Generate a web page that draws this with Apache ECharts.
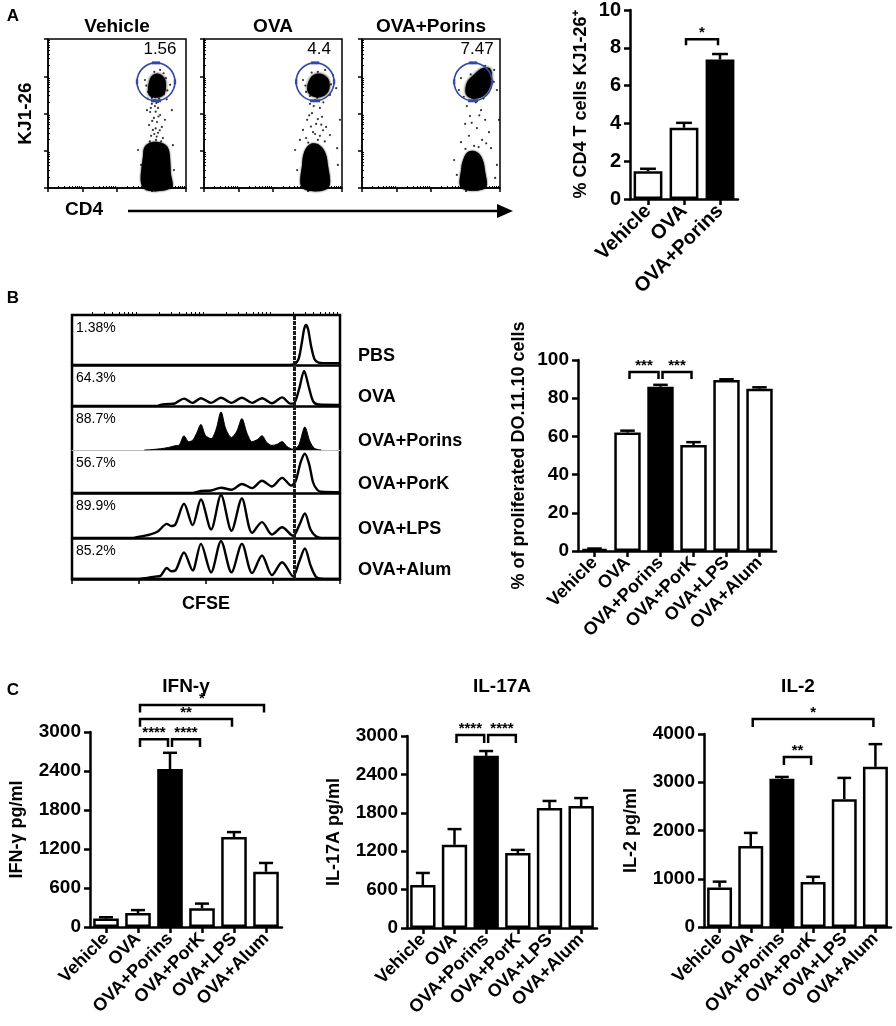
<!DOCTYPE html>
<html>
<head>
<meta charset="utf-8">
<title>Porins - antigen specific T cells</title>
<script src="https://cdn.jsdelivr.net/npm/echarts@6.0.0/dist/echarts.min.js"></script>
<style>
    html, body { margin: 0; padding: 0; background: #fff; }
    #chart { width: 896px; height: 1026px; }
</style>
</head>
<body>
<div id="chart"></div>
<script>
// ---------- data ----------
var groupsA = ['Vehicle', 'OVA', 'OVA+Porins'];
var groups = ['Vehicle', 'OVA', 'OVA+Porins', 'OVA+PorK', 'OVA+LPS', 'OVA+Alum'];

// A: % CD4 T cells KJ1-26+
var kjMean = [1.47, 3.77, 7.38];
var kjSem = [0.13, 0.26, 0.29];
var kjSig = [['OVA', 'OVA+Porins', 8.45, 8.14, '*']];

// B: % proliferated DO.11.10 cells
var prolifMean = [1, 62, 86, 55.5, 89.5, 85];
var prolifSem = [0.3, 1, 1, 1.5, 0.4, 0.7];
var prolifSig = [['OVA', 'OVA+Porins', 93.7, 90, '***'], ['OVA+Porins', 'OVA+PorK', 93.7, 90, '***']];

// C: cytokines pg/ml
var ifnMean = [130, 215, 2430, 290, 1385, 850];
var ifnSem = [20, 45, 250, 70, 75, 135];
var ifnSig = [['OVA', 'OVA+Porins', 2890, 2770, '****'], ['OVA+Porins', 'OVA+PorK', 2890, 2770, '****'],
              ['OVA', 'OVA+LPS', 3200, 3080, '**'], ['OVA', 'OVA+Alum', 3415, 3300, '*']];
var il17Mean = [670, 1300, 2690, 1170, 1875, 1905];
var il17Sem = [190, 245, 75, 50, 110, 125];
var il17Sig = [['OVA', 'OVA+Porins', 3015, 2890, '****'], ['OVA+Porins', 'OVA+PorK', 3015, 2890, '****']];
var il2Mean = [820, 1680, 3070, 935, 2650, 3320];
var il2Sem = [120, 270, 40, 105, 440, 470];
var il2Sig = [['OVA', 'OVA+Alum', 4310, 4145, '*'], ['OVA+Porins', 'OVA+PorK', 3525, 3360, '**']];

// A: dot plots, CD4 (x) vs KJ1-26 (y), in decades
var dotTitles = ['Vehicle', 'OVA', 'OVA+Porins'];
var gatePct = ['1.56', '4.4', '7.47'];
var gates = [[3.13, 2.85, 0.55], [3.22, 2.85, 0.55], [3.22, 2.85, 0.55]];
var vehicleBlob = [[2.76, 0], [2.76, 0.95], [2.8, 1.1], [2.92, 1.2], [3.1, 1.24], [3.3, 1.21], [3.45, 1.12], [3.52, 0.95], [3.56, 0.4], [3.58, 0]];
var vehicleCluster = [[2.90, 2.55], [2.93, 2.85], [3.02, 3.02], [3.2, 3.07], [3.38, 2.95], [3.42, 2.7], [3.35, 2.5], [3.15, 2.42], [2.98, 2.45]];
var vehicleDots = [[3.10, 2.36], [3.01, 2.26], [3.19, 2.15], [2.96, 2.04], [3.25, 1.96], [3.07, 1.88], [3.16, 1.77], [2.93, 1.69],
    [3.30, 1.64], [3.04, 1.56], [3.19, 1.48], [2.99, 1.40], [3.33, 1.34], [3.13, 1.29], [2.87, 2.09], [3.39, 1.83], [2.81, 2.90],
    [3.42, 2.95], [3.25, 3.17], [2.90, 2.58], [3.36, 2.52], [3.54, 2.77], [3.59, 2.09], [2.61, 1.02], [3.62, 1.15], [2.70, 0.62],
    [3.65, 0.48], [3.01, 2.42], [3.19, 2.31], [3.10, 2.20], [3.05, 2.33], [3.14, 2.28], [3.22, 2.40], [2.98, 2.15], [3.12, 2.05],
    [3.20, 1.92], [3.02, 1.80], [3.12, 1.60], [3.08, 1.45], [3.24, 1.55], [3.15, 1.38], [2.95, 1.25], [3.28, 1.25],
    [2.85, 2.75], [3.46, 2.62], [3.08, 3.12], [3.35, 3.08], [2.88, 2.40], [3.44, 2.38]];
var ovaBlob = [[2.85, 0], [2.85, 0.7], [2.9, 0.95], [3.0, 1.12], [3.16, 1.2], [3.35, 1.15], [3.5, 0.98], [3.58, 0.7], [3.6, 0]];
var ovaCluster = [[3.0, 2.6], [3.04, 2.88], [3.2, 3.05], [3.45, 3.05], [3.62, 2.9], [3.62, 2.62], [3.45, 2.46], [3.2, 2.44]];
var ovaDots = [[3.22, 2.36], [3.07, 2.26], [3.36, 2.15], [3.13, 2.01], [3.42, 1.91], [2.99, 1.83], [3.25, 1.72], [3.54, 1.64],
    [2.87, 1.56], [3.16, 1.50], [3.36, 1.40], [2.96, 1.34], [3.65, 1.42], [2.78, 1.29], [3.30, 1.29], [3.07, 2.47], [2.87, 2.90],
    [3.74, 3.03], [3.51, 3.17], [2.96, 2.58], [3.65, 2.50], [3.83, 2.68], [2.64, 1.02], [3.86, 1.07], [2.70, 0.48], [3.88, 0.62],
    [3.94, 1.83], [3.28, 2.42], [3.18, 2.20], [3.46, 2.30], [3.05, 1.95], [3.30, 1.85], [3.10, 1.65], [3.45, 1.55], [3.22, 1.45],
    [3.02, 1.22], [3.50, 1.25], [3.40, 1.70], [2.94, 2.75], [3.68, 2.78], [3.30, 3.12], [3.12, 3.10]];
var porinsBlob = [[2.88, 0], [2.88, 0.55], [2.95, 0.8], [3.05, 0.95], [3.2, 1.0], [3.38, 0.93], [3.5, 0.75], [3.56, 0.5], [3.58, 0]];
var porinsCluster = [[3.0, 2.55], [3.05, 2.85], [3.25, 3.05], [3.5, 3.22], [3.72, 3.2], [3.76, 2.9], [3.62, 2.55], [3.35, 2.4], [3.12, 2.42]];
var porinsDots = [[3.25, 2.36], [3.04, 2.20], [3.45, 2.09], [3.13, 1.93], [3.57, 1.83], [2.99, 1.72], [3.33, 1.61], [3.68, 1.50],
    [3.10, 1.40], [3.48, 1.29], [2.87, 1.23], [3.25, 1.13], [3.74, 1.07], [3.19, 2.42], [3.39, 2.52], [2.87, 2.95], [3.83, 3.17],
    [2.81, 2.63], [3.91, 2.63], [3.57, 3.28], [2.67, 0.75], [3.91, 0.62], [3.86, 0.27], [2.75, 0.35], [3.97, 1.83], [3.30, 2.30],
    [3.52, 2.40], [3.40, 1.95], [3.18, 1.75], [3.60, 1.20], [3.00, 1.05], [3.38, 1.10], [2.95, 2.45], [3.15, 3.05], [3.82, 2.85]];

// B: CFSE histograms, position 0-100 along CFSE axis, height in % of row
var histNames = ['PBS', 'OVA', 'OVA+Porins', 'OVA+PorK', 'OVA+LPS', 'OVA+Alum'];
var histPct = ['1.38%', '64.3%', '88.7%', '56.7%', '89.9%', '85.2%'];
var undividedGate = 82.8;
var histPBS = [[0, 0], [81, 0], [83, 2], [84.5, 12], [85.7, 45], [86.6, 75], [87.3, 84], [88.1, 75], [89.2, 40], [90.5, 12], [92, 5], [94, 4], [100, 4]];
var histOVA = [[0, 0], [32, 0], [33, 3], [36, 5], [38.5, 7], [41.8, 19], [45, 8], [48.1, 20], [51.9, 8], [55.6, 21], [59.5, 8],
    [63.4, 21], [67.2, 8], [70.9, 20], [74.6, 7], [78.4, 22], [81.5, 6], [83, 8], [84.8, 45], [86.6, 90], [88.3, 50], [90, 12], [92, 4], [100, 3]];
var histPorins = [[27, 0], [29, 0.5], [33, 3], [36, 6], [38.4, 10], [40, 12], [41.8, 34], [43.5, 20], [45, 23], [46.5, 40], [48.1, 61],
    [49.8, 35], [51.9, 27], [53.8, 50], [55.6, 91], [57.4, 50], [59.5, 30], [61.5, 45], [63.4, 75], [65.3, 40], [67.2, 20], [69.2, 25],
    [70.9, 34], [72.7, 18], [74.6, 11], [76.6, 14], [78.4, 20], [80.3, 8], [82.5, 2], [84.5, 10], [86.9, 55], [88.8, 20], [90.5, 4], [93, 0]];
var histPorK = [[0, 0], [45, 0], [47, 3], [48.1, 5], [51.9, 6], [55.6, 13], [59.5, 8], [63.4, 22], [67.2, 12], [70.9, 30], [74.6, 16],
    [78.4, 37], [81.8, 18], [83.5, 30], [85.3, 75], [86.9, 96], [88.5, 70], [90, 25], [91.5, 8], [93, 3], [100, 2]];
var histLPS = [[0, 0], [22, 0], [25, 3], [29, 8], [32, 15], [35.4, 33], [37, 28], [38.6, 32], [41.8, 80], [45, 30], [48.1, 90],
    [51.9, 20], [55.6, 100], [59.5, 17], [63.4, 92], [67.2, 12], [70.9, 37], [74.6, 8], [78.4, 25], [82.5, 5], [84.8, 30], [86.9, 57],
    [89, 20], [91, 4], [93, 0], [100, 0]];
var histAlum = [[0, 0], [25, 0], [28, 3], [31, 6], [33, 8], [35.4, 28], [37, 20], [38.6, 22], [41.8, 68], [45, 22], [48.1, 90],
    [51.9, 17], [55.6, 97], [59.5, 17], [63.4, 90], [67.2, 15], [70.9, 60], [74.6, 10], [78.4, 43], [82.5, 7], [84.8, 45], [86.9, 78],
    [89, 35], [91, 6], [93, 1], [100, 0]];

// ---------- layout / helpers ----------
var font = '"Liberation Sans", Arial, Helvetica, sans-serif';
var grids = [], xAxes = [], yAxes = [], series = [], graphics = [];

function addGrid(g) { grids.push(g); return grids.length - 1; }

function txt(x, y, s, size, bold, align, vAlign, rot) {
    graphics.push({
        type: 'text', x: x, y: y, rotation: rot || 0,
        style: {
            text: s, fill: '#000', font: (bold ? 'bold ' : '') + size + 'px ' + font,
            align: align || 'center', verticalAlign: vAlign || 'middle'
        }
    });
}

// minor log ticks within each decade
var logMinor = [];
for (var d = 0; d < 4; d++) {
    for (var m = 2; m <= 9; m++) logMinor.push(d + Math.log10(m));
}

function plainAxis(gi, min, max, extra) {
    var a = {
        gridIndex: gi, type: 'value', min: min, max: max,
        axisLine: { show: false }, axisTick: { show: false }, axisLabel: { show: false }, splitLine: { show: false }
    };
    for (var k in extra) a[k] = extra[k];
    return a;
}

// ---------- A: dot plots ----------
var dotLeft = [48, 204, 362];
var dotBlobs = [vehicleBlob, ovaBlob, porinsBlob];
var dotClusters = [vehicleCluster, ovaCluster, porinsCluster];
var dotPoints = [vehicleDots, ovaDots, porinsDots];

function polySeries(xi, yi, poly, blur) {
    return {
        type: 'custom', xAxisIndex: xi, yAxisIndex: yi, data: poly, silent: true,
        renderItem: function (params, api) {
            if (params.dataIndex !== 0) return null;
            var pts = poly.map(function (p) { return api.coord(p); });
            return {
                type: 'polygon', shape: { points: pts, smooth: 0.35 },
                style: { fill: '#000', shadowBlur: blur, shadowColor: '#000' }
            };
        }
    };
}

dotLeft.forEach(function (left, k) {
    var gi = addGrid({ left: left, top: 39, width: 138, height: 149, show: true, borderColor: '#000', borderWidth: 1.5 });
    var xi = xAxes.length, yi = yAxes.length;
    xAxes.push(plainAxis(gi, 0, 4, {
        interval: 1,
        axisLine: { show: true, lineStyle: { color: '#000', width: 1.5 } },
        axisTick: { show: true, length: 4, lineStyle: { color: '#000', width: 1.5 } }
    }));
    xAxes.push(plainAxis(gi, 0, 4, { axisTick: { show: true, customValues: logMinor, length: 2, lineStyle: { color: '#000', width: 1 } } }));
    yAxes.push(plainAxis(gi, 0, 4, {
        interval: 1,
        name: k === 0 ? 'KJ1-26' : '', nameLocation: 'middle', nameGap: 13,
        nameTextStyle: { fontFamily: font, fontWeight: 'bold', fontSize: 19, color: '#000' },
        axisLine: { show: true, lineStyle: { color: '#000', width: 1.5 } },
        axisTick: { show: true, length: 4, lineStyle: { color: '#000', width: 1.5 } }
    }));
    yAxes.push(plainAxis(gi, 0, 4, { axisTick: { show: true, customValues: logMinor, length: 2, lineStyle: { color: '#000', width: 1 } } }));

    series.push(polySeries(xi, yi, dotBlobs[k], 2));
    series.push(polySeries(xi, yi, dotClusters[k], 3));
    series.push({
        type: 'scatter', xAxisIndex: xi, yAxisIndex: yi, data: dotPoints[k], symbolSize: 2.2,
        itemStyle: { color: '#000' }, silent: true
    });
    series.push({
        type: 'custom', xAxisIndex: xi, yAxisIndex: yi, data: [gates[k]], silent: true, z: 5,
        renderItem: function (params, api) {
            var c = api.coord([api.value(0), api.value(1)]);
            var r = api.size([api.value(2), 0])[0];
            var blue = '#3447a6';
            return {
                type: 'group', children: [
                    { type: 'circle', shape: { cx: c[0], cy: c[1], r: r }, style: { fill: null, stroke: blue, lineWidth: 1.6 } },
                    { type: 'rect', shape: { x: c[0] - 4, y: c[1] - r - 1.5, width: 8, height: 3 }, style: { fill: blue } },
                    { type: 'rect', shape: { x: c[0] - 5, y: c[1] + r - 1.5, width: 10, height: 3 }, style: { fill: blue } },
                    { type: 'rect', shape: { x: c[0] - r - 1.2, y: c[1] - 2.5, width: 2.4, height: 5 }, style: { fill: blue } },
                    { type: 'rect', shape: { x: c[0] + r - 1.2, y: c[1] - 2.5, width: 2.4, height: 5 }, style: { fill: blue } },
                    {
                        type: 'text', x: c[0] + 4, y: c[1] - r - 5,
                        style: { text: gatePct[k], fill: '#000', font: '17px ' + font, align: 'center', verticalAlign: 'bottom' }
                    }
                ]
            };
        }
    });
    txt(left + 69, 27, dotTitles[k], 19, true);
});

// CD4 label + arrow
txt(84, 210, 'CD4', 19, true);
graphics.push({ type: 'line', shape: { x1: 128, y1: 211, x2: 500, y2: 211 }, style: { stroke: '#000', lineWidth: 2.5 } });
graphics.push({ type: 'polygon', shape: { points: [[497, 204], [513, 211], [497, 218]] }, style: { fill: '#000' } });

// ---------- bar charts ----------
function errRender(params, api) {
    var i = api.value(0), v = api.value(1), e = api.value(2);
    var p0 = api.coord([i, v]), p1 = api.coord([i, v + e]);
    var w = api.size([1, 0])[0] * 0.22;
    return {
        type: 'group', children: [
            { type: 'line', shape: { x1: p0[0], y1: p0[1], x2: p1[0], y2: p1[1] }, style: { stroke: '#000', lineWidth: 2.5 } },
            { type: 'line', shape: { x1: p1[0] - w, y1: p1[1], x2: p1[0] + w, y2: p1[1] }, style: { stroke: '#000', lineWidth: 2.5 } }
        ]
    };
}

function barChart(o) {
    var gi = addGrid({ left: o.left, top: o.top, width: o.width, height: o.height });
    var xi = xAxes.length, yi = yAxes.length;
    xAxes.push({
        gridIndex: gi, type: 'category', data: o.cats,
        axisLine: { show: true, lineStyle: { color: '#000', width: 2.5 } },
        axisTick: { show: true, alignWithLabel: true, length: 6, lineStyle: { color: '#000', width: 2.5 } },
        axisLabel: { interval: 0, rotate: 45, margin: 9, color: '#000', fontFamily: font, fontWeight: 'bold', fontSize: o.catSize }
    });
    yAxes.push({
        gridIndex: gi, type: 'value', min: 0, max: o.max, interval: o.interval,
        name: o.yName, nameLocation: 'middle', nameGap: o.nameGap,
        nameTextStyle: { fontFamily: font, fontWeight: 'bold', fontSize: 18, color: '#000' },
        axisLine: { show: true, lineStyle: { color: '#000', width: 2.5 } },
        axisTick: { show: true, length: 6, lineStyle: { color: '#000', width: 2.5 } },
        axisLabel: {
            margin: 9, color: '#000', fontFamily: font, fontWeight: 'bold', fontSize: o.tickSize,
            formatter: function (v) { return String(v); }
        },
        splitLine: { show: false }
    });
    series.push({
        type: 'bar', xAxisIndex: xi, yAxisIndex: yi, barWidth: '80%', silent: true,
        data: o.mean.map(function (v, i) {
            return { value: v, itemStyle: { color: o.cats[i] === 'OVA+Porins' ? '#000' : '#fff' } };
        }),
        itemStyle: { borderColor: '#000', borderWidth: 2.5 }
    });
    series.push({
        type: 'custom', xAxisIndex: xi, yAxisIndex: yi, silent: true, z: 3,
        data: o.mean.map(function (v, i) { return [i, v, o.sem[i]]; }),
        renderItem: errRender
    });
    var sig = o.sig.map(function (s) {
        return [o.cats.indexOf(s[0]), o.cats.indexOf(s[1]), s[2], s[3], s[4]];
    });
    series.push({
        type: 'custom', xAxisIndex: xi, yAxisIndex: yi, silent: true, z: 3, clip: false,
        data: sig.map(function (b) { return [b[0], b[2]]; }),
        renderItem: function (params, api) {
            var b = sig[params.dataIndex];
            var pa = api.coord([b[0], b[2]]), pb = api.coord([b[1], b[2]]), pl = api.coord([b[0], b[3]]);
            var x1 = pa[0] + 2, x2 = pb[0] - 2, yt = pa[1], yl = pl[1];
            return {
                type: 'group', children: [
                    { type: 'polyline', shape: { points: [[x1, yl], [x1, yt], [x2, yt], [x2, yl]] }, style: { stroke: '#000', lineWidth: 2.5, fill: null } },
                    { type: 'text', x: (x1 + x2) / 2, y: yt + 1, style: { text: b[4], fill: '#000', font: 'bold 15px ' + font, align: 'center', verticalAlign: 'bottom' } }
                ]
            };
        }
    });
}

barChart({ left: 630, top: 7, width: 108, height: 192, cats: groupsA, mean: kjMean, sem: kjSem, sig: kjSig,
    max: 10, interval: 2, yName: '% CD4 T cells KJ1-26\u207A', nameGap: 40, catSize: 20, tickSize: 20 });
barChart({ left: 578, top: 360, width: 198, height: 191, cats: groups, mean: prolifMean, sem: prolifSem, sig: prolifSig,
    max: 100, interval: 20, yName: '% of proliferated DO.11.10 cells', nameGap: 50, catSize: 18, tickSize: 19 });
barChart({ left: 90, top: 732, width: 192, height: 195, cats: groups, mean: ifnMean, sem: ifnSem, sig: ifnSig,
    max: 3000, interval: 600, yName: 'IFN-\u03B3 pg/ml', nameGap: 64, catSize: 18, tickSize: 19 });
barChart({ left: 407, top: 736, width: 190, height: 192, cats: groups, mean: il17Mean, sem: il17Sem, sig: il17Sig,
    max: 3000, interval: 600, yName: 'IL-17A pg/ml', nameGap: 64, catSize: 18, tickSize: 19 });
barChart({ left: 704, top: 734, width: 187, height: 193, cats: groups, mean: il2Mean, sem: il2Sem, sig: il2Sig,
    max: 4000, interval: 1000, yName: 'IL-2 pg/ml', nameGap: 64, catSize: 18, tickSize: 19 });

txt(186, 687, 'IFN-\u03B3', 19, true);
txt(502, 687, 'IL-17A', 19, true);
txt(798, 687, 'IL-2', 19, true);

// ---------- B: CFSE histograms ----------
var hx = 72, hw = 268;
var rowEdges = [315, 365, 406, 450, 493, 538, 579];
var histRows = [histPBS, histOVA, histPorins, histPorK, histLPS, histAlum];
var histMinor = logMinor.map(function (v) { return v * 25; });

var gOut = addGrid({ left: hx, top: rowEdges[0], width: hw, height: rowEdges[6] - rowEdges[0], show: true, borderColor: '#000', borderWidth: 2.5 });
xAxes.push(plainAxis(gOut, 0, 100, {
    interval: 25, name: 'CFSE', nameLocation: 'middle', nameGap: 16,
    nameTextStyle: { fontFamily: font, fontWeight: 'bold', fontSize: 18, color: '#000', verticalAlign: 'top' },
    axisLine: { show: true, lineStyle: { color: '#000', width: 2.5 } },
    axisTick: { show: true, length: 5, lineStyle: { color: '#000', width: 1.5 } }
}));
xAxes.push(plainAxis(gOut, 0, 100, { axisTick: { show: true, customValues: histMinor, length: 3, lineStyle: { color: '#000', width: 1 } } }));
yAxes.push(plainAxis(gOut, 0, 1, {}));

histRows.forEach(function (row, k) {
    var top = rowEdges[k], h = rowEdges[k + 1] - rowEdges[k];
    var gi = addGrid({ left: hx, top: top, width: hw, height: h });
    var xi = xAxes.length, yi = yAxes.length;
    var filled = histNames[k] === 'OVA+Porins';
    xAxes.push(plainAxis(gi, 0, 100, {
        axisLine: { show: k < 5, lineStyle: { color: filled ? '#bbb' : '#000', width: filled ? 1 : 2.5 } }
    }));
    yAxes.push(plainAxis(gi, 0, 105, {}));
    series.push({
        type: 'line', xAxisIndex: xi, yAxisIndex: yi, data: row, smooth: 0.3, symbol: 'none', silent: true,
        lineStyle: { color: '#000', width: filled ? 1 : 2.4 },
        areaStyle: filled ? { color: '#000', opacity: 1 } : null,
        markLine: {
            silent: true, symbol: 'none', label: { show: false },
            lineStyle: { color: '#1a1a1a', width: 3, type: [4, 1] },
            data: [{ xAxis: undividedGate }]
        }
    });
    txt(hx + 4, top + 13, histPct[k], 14, false, 'left', 'middle');
    txt(358, rowEdges[k + 1] - 9, histNames[k], 18, true, 'left', 'middle');
});

// panel letters
txt(13, 16, 'A', 17, true);
txt(13, 298, 'B', 17, true);
txt(13, 690, 'C', 17, true);

var chart = echarts.init(document.getElementById('chart'));
chart.setOption({
    animation: false,
    backgroundColor: '#fff',
    textStyle: { fontFamily: font },
    grid: grids,
    xAxis: xAxes,
    yAxis: yAxes,
    series: series,
    graphic: { elements: graphics }
});
</script>
</body>
</html>
